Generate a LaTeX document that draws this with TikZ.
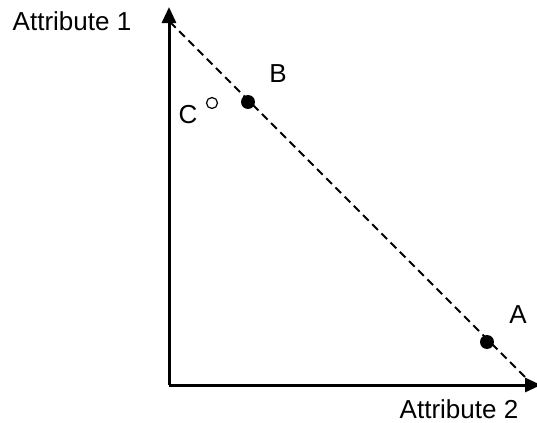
\documentclass[tikz,border=0pt]{standalone}
\usepackage{fontspec}
\setmainfont{Liberation Sans}
\usetikzlibrary{arrows.meta}

\begin{document}
\begin{tikzpicture}
        [x=0.5pt,y=-0.5pt,
        every node/.style={font=\fontsize{13}{15}\selectfont,inner sep=0pt},
        axis/.style={line width=1.5pt,-{Triangle[length=8pt,width=7pt]}},
        frontier/.style={line width=1pt,dash pattern=on 4pt off 2.5pt},
        dominant/.style={circle,fill=black,minimum size=7pt},
        dominated/.style={circle,draw=black,line width=0.6pt,fill=white,minimum size=5.5pt},
        optlabel/.style={anchor=base}]
        \useasboundingbox (0,0) rectangle (537,423);
        % axes
        \coordinate (O) at (169,385);
        \coordinate (top) at (169,7);
        \coordinate (right) at (541,385);
        \draw[axis] (O) -- (top);
        \draw[axis] (O) -- (right);
        % frontier
        \coordinate (f1) at (170,22);
        \coordinate (f2) at (531,383);
        \draw[frontier] (f1) -- (f2);
        % options
        \node[dominant] (B) at (248,102) {};
        \node[dominant] (A) at (487,342) {};
        \node[dominated] (C) at (212,103) {};
        \node[optlabel] (labB) at (278,83) {B};
        \node[optlabel] (labA) at (518,323) {A};
        \node[optlabel] (labC) at (188,123) {C};
        \node[optlabel] (att1) at (72,31) {Attribute 1};
        \node[optlabel] (att2) at (459,418) {Attribute 2};
\end{tikzpicture}
\end{document}
